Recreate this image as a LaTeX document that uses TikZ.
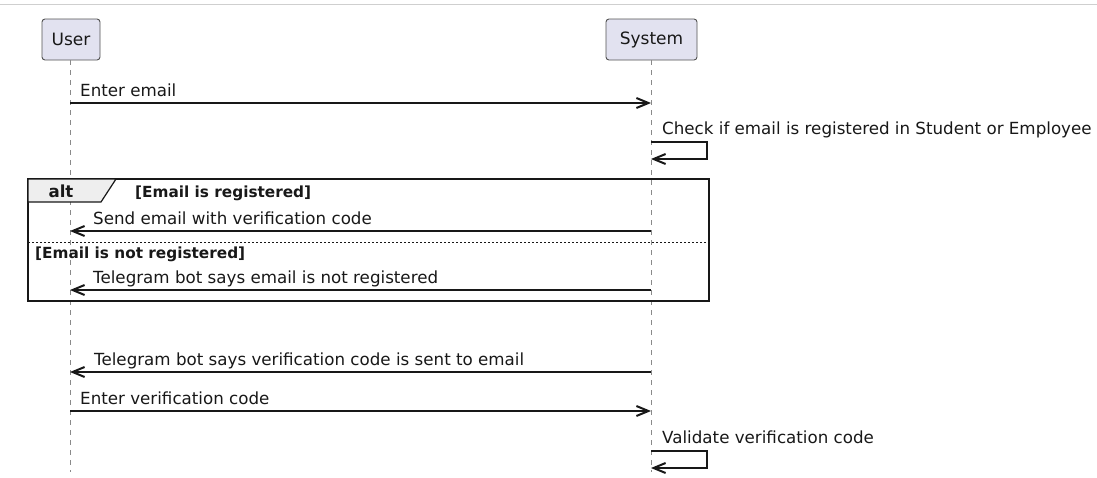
\documentclass[tikz,border=0pt]{standalone}
\usepackage{fontspec}
\setmainfont{DejaVu Sans}
\usetikzlibrary{arrows.meta}
\definecolor{partfill}{HTML}{E2E2F0}
\definecolor{ink}{HTML}{181818}
\definecolor{lifegray}{HTML}{8A8A8A}
\definecolor{tabfill}{HTML}{EEEEEE}
\definecolor{rulegray}{HTML}{CFCFCF}
\tikzset{
  participant/.style={draw=ink!75, line width=0.9pt, fill=partfill, rounded corners=3pt,
    minimum height=41pt, inner xsep=6pt, font=\fontsize{17}{20}\selectfont, text=ink},
  lifeline/.style={draw=lifegray, line width=0.9pt, dash pattern=on 5pt off 5pt},
  seqtip/.tip={Straight Barb[length=12pt,width=10pt,line width=2pt]},
  msg/.style={draw=ink, line width=1.3pt, -seqtip},
  msgtext/.style={anchor=base west, inner sep=0pt, font=\fontsize{16.7}{20}\selectfont, text=ink},
  condtext/.style={anchor=base west, inner sep=0pt, font=\bfseries\fontsize{15.3}{18}\selectfont, text=ink},
  fragment/.style={draw=ink, line width=2pt},
  separator/.style={draw=ink, line width=1pt, dash pattern=on 2pt off 2pt},
}
\begin{document}
\begin{tikzpicture}[x=1pt,y=-1pt]
\useasboundingbox (0,0) rectangle (1097,477);

% top rule
\coordinate (ruleL) at (0,4.5);
\coordinate (ruleR) at (1097,4.5);
\draw[rulegray, line width=1.5pt] (ruleL) -- (ruleR);

% participants
\node[participant, minimum width=58pt] (user) at (71,39.5) {User};
\node[participant, minimum width=91pt] (system) at (651.5,39.5) {System};

% lifelines
\coordinate (userEnd) at (70,472);
\coordinate (sysEnd) at (651,472);
\draw[lifeline] (user.south -| userEnd) -- (userEnd);
\draw[lifeline] (system.south -| sysEnd) -- (sysEnd);

% alt fragment
\coordinate (altNW) at (28,179);
\coordinate (altSE) at (709,301);
\draw[fragment] (altNW) rectangle (altSE);
\coordinate (tabA) at (116,179);
\coordinate (tabB) at (101,202);
\coordinate (tabC) at (28,202);
\draw[fill=tabfill, draw=ink, line width=1.2pt] (altNW) -- (tabA) -- (tabB) -- (tabC) -- cycle;
\node[anchor=base, inner sep=0pt, font=\bfseries\fontsize{16.6}{20}\selectfont, text=ink] (altlabel) at (61,197.5) {alt};
\node[condtext] (cond1) at (135,197) {[Email is registered]};
\coordinate (sepL) at (28,242);
\coordinate (sepR) at (709,242);
\draw[separator] (sepL) -- (sepR);
\node[condtext] (cond2) at (35,258) {[Email is not registered]};

% message endpoints on the lifelines
\coordinate (u1) at (70,103);   \coordinate (s1) at (651,103);
\coordinate (s2a) at (651,142); \coordinate (s2b) at (707,142);
\coordinate (s2c) at (707,159); \coordinate (s2d) at (651,159);
\coordinate (u3) at (70,231);   \coordinate (s3) at (651,231);
\coordinate (u4) at (70,290);   \coordinate (s4) at (651,290);
\coordinate (u5) at (70,372);   \coordinate (s5) at (651,372);
\coordinate (u6) at (70,411);   \coordinate (s6) at (651,411);
\coordinate (s7a) at (651,451); \coordinate (s7b) at (707,451);
\coordinate (s7c) at (707,468); \coordinate (s7d) at (651,468);

% messages
\draw[msg] (u1) -- (s1);
\node[msgtext] (m1) at (80,96) {Enter email};

\draw[msg] (s2a) -- (s2b) -- (s2c) -- (s2d);
\node[msgtext] (m2) at (662,134) {Check if email is registered in Student or Employee};

\draw[msg] (s3) -- (u3);
\node[msgtext] (m3) at (93,224) {Send email with verification code};

\draw[msg] (s4) -- (u4);
\node[msgtext] (m4) at (93,283) {Telegram bot says email is not registered};

\draw[msg] (s5) -- (u5);
\node[msgtext] (m5) at (94,365) {Telegram bot says verification code is sent to email};

\draw[msg] (u6) -- (s6);
\node[msgtext] (m6) at (80,404) {Enter verification code};

\draw[msg] (s7a) -- (s7b) -- (s7c) -- (s7d);
\node[msgtext] (m7) at (662,443) {Validate verification code};
\end{tikzpicture}
\end{document}
